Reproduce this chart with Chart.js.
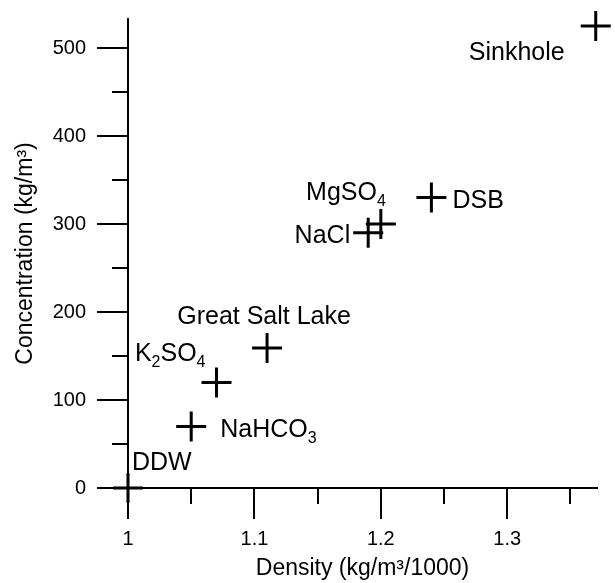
<!DOCTYPE html>
<html><head><meta charset="utf-8">
<script src="https://cdn.jsdelivr.net/npm/chart.js@4/dist/chart.umd.min.js"></script>
<style>html,body{margin:0;padding:0;background:#fff}</style>
</head><body>
<canvas id="c" width="615" height="583" style="display:block;width:615px;height:583px"></canvas>
<script>
// ---- data ----
const samples = ['DDW', 'NaHCO_3', 'K_2SO_4', 'Great Salt Lake', 'NaCl', 'MgSO_4', 'DSB', 'Sinkhole'];
const density = [1.00, 1.05, 1.07, 1.11, 1.19, 1.20, 1.24, 1.37];
const concentration = [0, 70, 120, 159, 290, 300, 330, 525];
const xMajorTicks = [1, 1.1, 1.2, 1.3];
const xMajorLabels = ['1', '1.1', '1.2', '1.3'];
const xMinorTicks = [1.05, 1.15, 1.25, 1.35];
const yMajorTicks = [0, 100, 200, 300, 400, 500];
const yMajorLabels = ['0', '100', '200', '300', '400', '500'];
const yMinorTicks = [50, 150, 250, 350, 450];

// ---- label layout (pixels relative to the point) ----
const labelPlacement = [
  {dx: 4, dy: -18, align: 'left'},
  {dx: 29, dy: 11, align: 'left'},
  {dx: -11, dy: -21, align: 'right'},
  {dx: -3, dy: -24, align: 'center'},
  {dx: -18, dy: 10, align: 'right'},
  {dx: 5, dy: -24, align: 'right'},
  {dx: 21, dy: 10, align: 'left'},
  {dx: -31, dy: 34, align: 'right'}
];

const FONT = '"Liberation Sans", Arial, Helvetica, sans-serif';

function parseRich(text) {
  const parts = [];
  for (let i = 0; i < text.length; i++) {
    if (text[i] === '_') { parts.push({t: text[i + 1], sub: true}); i++; }
    else if (parts.length && !parts[parts.length - 1].sub) parts[parts.length - 1].t += text[i];
    else parts.push({t: text[i], sub: false});
  }
  return parts;
}

function drawRich(ctx, text, x, y, align) {
  const parts = parseRich(text);
  let total = 0;
  parts.forEach(p => {
    ctx.font = (p.sub ? '16px ' : '25px ') + FONT;
    p.w = ctx.measureText(p.t).width;
    total += p.w;
  });
  let cx = align === 'right' ? x - total : align === 'center' ? x - total / 2 : x;
  ctx.textAlign = 'left';
  ctx.textBaseline = 'alphabetic';
  parts.forEach(p => {
    ctx.font = (p.sub ? '16px ' : '25px ') + FONT;
    ctx.fillText(p.t, cx, p.sub ? y + 6 : y);
    cx += p.w;
  });
}

const axisDecor = {
  id: 'axisDecor',
  afterDatasetsDraw(chart) {
    const ctx = chart.ctx;
    const xs = chart.scales.x, ys = chart.scales.y;
    const area = chart.chartArea;
    ctx.save();
    ctx.strokeStyle = '#000';
    ctx.lineWidth = 2;
    const vt = (vals, len) => vals.forEach(v => {
      const px = Math.round(xs.getPixelForValue(v));
      ctx.beginPath(); ctx.moveTo(px, area.bottom); ctx.lineTo(px, area.bottom + len); ctx.stroke();
    });
    const ht = (vals, len) => vals.forEach(v => {
      const py = Math.round(ys.getPixelForValue(v));
      ctx.beginPath(); ctx.moveTo(area.left, py); ctx.lineTo(area.left - len, py); ctx.stroke();
    });
    vt(xMajorTicks, 31); vt(xMinorTicks, 16);
    ht(yMajorTicks, 31); ht(yMinorTicks, 16);

    ctx.fillStyle = '#000';
    const meta = chart.getDatasetMeta(0);
    meta.data.forEach((pt, i) => {
      const L = labelPlacement[i];
      drawRich(ctx, samples[i], pt.x + L.dx, pt.y + L.dy, L.align);
    });
    ctx.restore();
  }
};

new Chart(document.getElementById('c'), {
  type: 'scatter',
  data: {
    datasets: [{
      data: density.map((d, i) => ({x: d, y: concentration[i]})),
      pointStyle: 'cross',
      radius: 15,
      hoverRadius: 15,
      borderWidth: 3,
      borderColor: '#000',
      backgroundColor: '#000',
      clip: false
    }]
  },
  options: {
    responsive: false,
    animation: false,
    events: [],
    layout: {padding: {top: 19, right: 18, left: 0, bottom: 0}},
    plugins: {legend: {display: false}, tooltip: {enabled: false}},
    scales: {
      x: {
        type: 'linear', min: 1, max: 1.371,
        afterFit(s) { s.height = 95; s.paddingLeft = 0; s.paddingRight = 0; s.paddingTop = 0; s.paddingBottom = 0; },
        afterBuildTicks(s) { s.ticks = xMajorTicks.map(v => ({value: v})); },
        grid: {display: false, drawTicks: false},
        border: {display: true, color: '#000', width: 2},
        ticks: {
          padding: 39, color: '#000', font: {family: FONT, size: 20}, maxRotation: 0,
          callback(v) { const i = xMajorTicks.indexOf(v); return i >= 0 ? xMajorLabels[i] : ''; }
        },
        title: {display: true, text: 'Density (kg/m³/1000)', color: '#000', font: {family: FONT, size: 23}, padding: {top: 0, bottom: 1}}
      },
      y: {
        type: 'linear', min: 0, max: 533,
        afterFit(s) { s.width = 128; s.paddingLeft = 0; s.paddingRight = 0; s.paddingTop = 0; s.paddingBottom = 0; },
        afterBuildTicks(s) { s.ticks = yMajorTicks.map(v => ({value: v})); },
        grid: {display: false, drawTicks: false},
        border: {display: true, color: '#000', width: 2},
        ticks: {
          padding: 42, color: '#000', font: {family: FONT, size: 20},
          callback(v) { const i = yMajorTicks.indexOf(v); return i >= 0 ? yMajorLabels[i] : ''; }
        },
        title: {display: true, text: 'Concentration (kg/m³)', color: '#000', font: {family: FONT, size: 23}, padding: {top: 12, bottom: 0}}
      }
    }
  },
  plugins: [axisDecor]
});
</script>
</body></html>
